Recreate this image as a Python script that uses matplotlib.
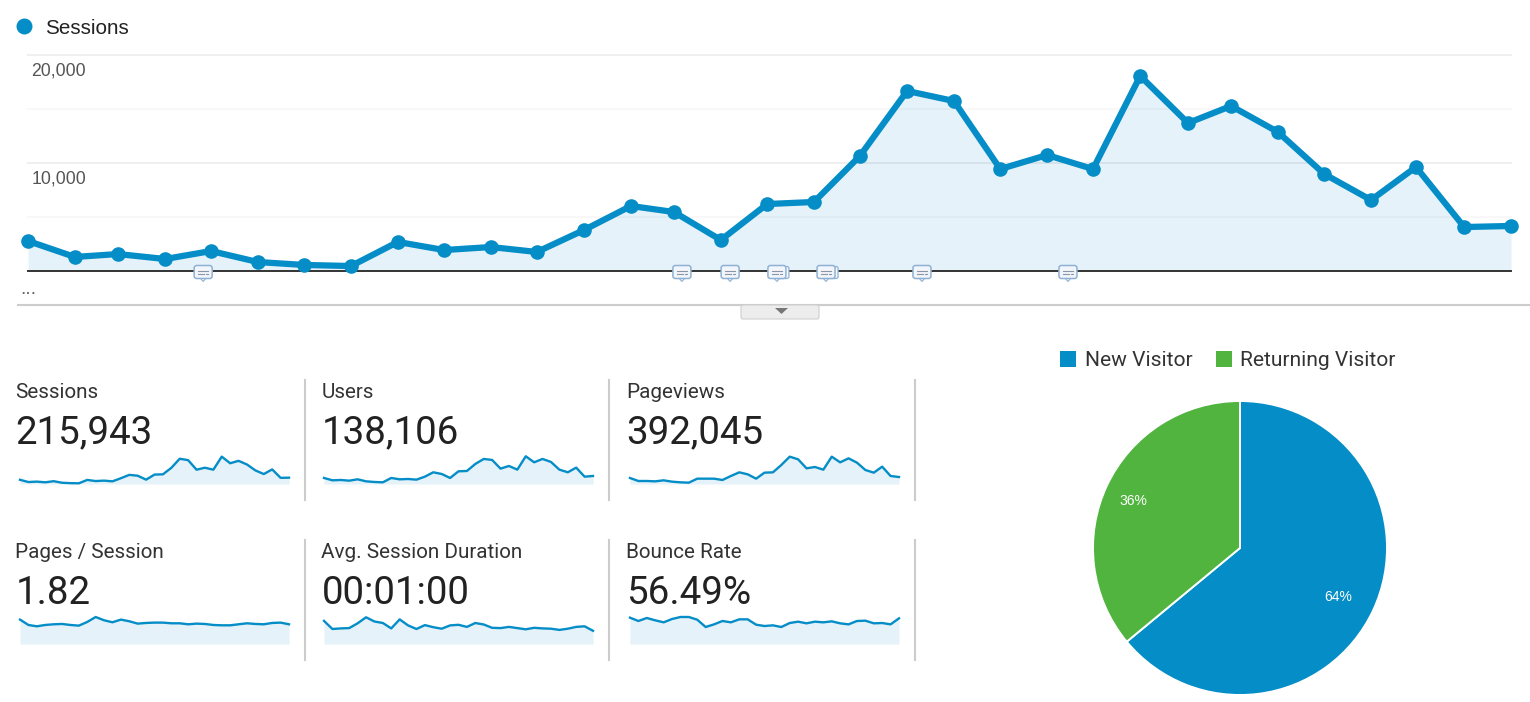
# Analytics overview: sessions trend, metric tiles with sparklines, visitor pie
import matplotlib
matplotlib.use('Agg')
import matplotlib.pyplot as plt
from matplotlib.patches import FancyBboxPatch, Rectangle, Polygon

plt.rcParams['font.family'] = ['Roboto', 'DejaVu Sans']

# period positions on the time axis (the picture has a few short periods)
period_x = [0, 1.01, 1.94, 2.96, 3.95, 4.96, 5.96, 6.97, 7.98, 8.98, 9.99,
            10.98, 12.0, 13.01, 13.94, 14.95, 15.95, 16.96, 17.95, 18.97,
            19.98, 20.98, 21.99, 22.98, 24.0, 25.03, 25.96, 26.97, 27.97,
            28.98, 29.95, 30.99, 32.0]
sessions = [2780, 1300, 1570, 1110, 1850, 830, 560, 460, 2690, 1940, 2220,
            1760, 3800, 6020, 5460, 2870, 6200, 6390, 10650, 16670, 15740,
            9440, 10740, 9440, 18060, 13700, 15280, 12870, 8980, 6570, 9630,
            4070, 4170]
users = [2190, 1340, 1460, 1210, 1700, 970, 730, 610, 2190, 1700, 1820, 1580,
         2670, 4250, 3640, 2190, 4610, 4730, 7280, 9100, 8740, 5580, 6550,
         5220, 10070, 7890, 9100, 8010, 5220, 4250, 5950, 2670, 2910]
pageviews = [6300, 3150, 3150, 2800, 3850, 2450, 1750, 1400, 5600, 5600, 5600,
             4200, 8400, 12250, 10150, 5600, 11900, 12250, 19950, 28700, 25900,
             16450, 17850, 15050, 28700, 22750, 26950, 22400, 14700, 11900,
             18200, 8400, 7350]
pages_per_session = [2.18, 1.70, 1.58, 1.70, 1.76, 1.79, 1.70, 1.64, 1.97, 2.41,
                     2.12, 1.94, 2.18, 2.03, 1.82, 1.88, 1.91, 1.91, 1.85, 1.85,
                     1.76, 1.82, 1.79, 1.70, 1.67, 1.67, 1.76, 1.85, 1.79, 1.76,
                     1.88, 1.91, 1.76]
avg_duration = [77, 50, 52, 53, 69, 89, 75, 70, 52, 82, 62, 50, 63, 56, 51, 62,
                64, 57, 70, 65, 54, 53, 57, 53, 49, 54, 52, 51, 47, 51, 57, 59, 44]
bounce_rate = [66.6, 58.2, 65.8, 59.9, 54.8, 63.2, 68.3, 68.3, 61.5, 43.0, 49.7,
               58.2, 54.8, 62.4, 62.4, 48.9, 45.5, 47.2, 43.0, 53.1, 56.5, 52.3,
               56.5, 54.8, 57.3, 52.3, 49.7, 58.2, 59.0, 52.3, 53.1, 49.7, 64.9]

# annotation flags: position on the time axis, and whether several are stacked
note_x = [3.78, 14.11, 15.15, 16.16, 17.22, 19.29, 22.44]
note_stacked = [False, False, False, True, True, False, False]

y_ticks = [0, 5000, 10000, 15000, 20000]
y_labels = ['10,000', '20,000']

tile_names = ['Sessions', 'Users', 'Pageviews',
              'Pages / Session', 'Avg. Session Duration', 'Bounce Rate']
tile_totals = ['215,943', '138,106', '392,045', '1.82', '00:01:00', '56.49%']
tile_series = [sessions, users, pageviews,
               pages_per_session, avg_duration, bounce_rate]
tile_ymax = [19800, 10900, 31500, 2.68, 100, 75.9]

pie_labels = ['New Visitor', 'Returning Visitor']
pie_values = [64, 36]

BLUE = '#058dc7'
FILL = '#e5f2f9'
GREEN = '#50b43f'
ARIAL = 'Liberation Sans'
W, H = 1530, 702

fig = plt.figure(figsize=(W / 100, H / 100), dpi=100, facecolor='white')


def px_axes(left, top, right, bottom, **kw):
    """Axes placed by its pixel box, measured from the top left"""
    return fig.add_axes([left / W, 1 - bottom / H, (right - left) / W, (bottom - top) / H], **kw)


# main trend chart
ax = px_axes(28, 55, 1511, 271)
ax.set_xlim(0, 32)
ax.set_ylim(0, 20000)
ax.fill_between(period_x, sessions, 0, color=FILL, lw=0, zorder=1)
for t in y_ticks[1:]:
    ax.axhline(t, color='black', alpha=0.07 if t % 10000 == 0 else 0.03, lw=1.3, zorder=2, clip_on=False)
ax.axhline(0, color='#333333', lw=1.4, zorder=2, clip_on=False)
ax.plot(period_x, sessions, color=BLUE, lw=4.5, marker='o', ms=10.5, mew=0,
        zorder=3, clip_on=False, solid_joinstyle='round')
ax.axis('off')

# sparkline tiles
tile_left = [20, 324, 630]
tile_text = [15.5, 321.5, 626.5]
for i, series in enumerate(tile_series):
    col, row = i % 3, i // 3
    base = 484 + row * 160
    sp = px_axes(tile_left[col], base - 30, tile_left[col] + 269, base)
    xs = list(range(len(series)))
    sp.set_xlim(0, len(series) - 1)
    sp.set_ylim(0, tile_ymax[i])
    sp.fill_between(xs, series, 0, color=FILL, lw=0)
    sp.plot(xs, series, color=BLUE, lw=1.7, clip_on=False, solid_joinstyle='round')
    sp.axis('off')

# pie
pie_ax = px_axes(1240 - 147, 548 - 147, 1240 + 147, 548 + 147)
wedges, texts, autotexts = pie_ax.pie(
    pie_values, colors=[BLUE, GREEN], startangle=90, counterclock=False, radius=1.0,
    autopct='%d%%', pctdistance=0.74,
    wedgeprops={'edgecolor': 'white', 'linewidth': 1.4},
    textprops={'color': 'white', 'fontsize': 10, 'family': ARIAL})
pie_ax.set_xlim(-1, 1)
pie_ax.set_ylim(-1, 1)
# the second label sits further out, and both read a little lower than centred
x64, y64 = autotexts[0].get_position()
autotexts[0].set_position((x64, y64 - 0.02))
x36, y36 = autotexts[1].get_position()
autotexts[1].set_position((x36 * 0.80 / 0.74, y36 * 0.80 / 0.74 - 0.02))

# everything else goes on a full-size overlay in pixel coordinates
ov = fig.add_axes([0, 0, 1, 1], zorder=10)
ov.set_xlim(0, W)
ov.set_ylim(H, 0)
ov.axis('off')
ov.patch.set_alpha(0)

# top legend
ov.plot([24], [26], 'o', color=BLUE, ms=11.5, mew=0)
ov.text(45, 28.5, 'Sessions', fontsize=14.9, color='#222222', va='center', family=ARIAL)

for t, lab, py in zip(y_ticks[2::2], y_labels, [178.5, 70.5]):
    ov.text(86, py, lab, fontsize=12.7, color='#555555', ha='right', va='center', family=ARIAL)
ov.text(28, 289, '...', fontsize=14, color='#666666', ha='center', va='center', family=ARIAL)

# annotation flags under the chart
for nx, stacked in zip(note_x, note_stacked):
    cx = 28 + nx * (1511 - 28) / 32
    if stacked:
        ov.add_patch(FancyBboxPatch((cx - 5, 266.5), 17, 12, boxstyle='round,pad=0,rounding_size=2',
                                    fc='#f7fafd', ec='#8fb1d6', lw=0.9, zorder=4))
    ov.add_patch(Polygon([[cx - 3, 278], [cx + 3, 278], [cx, 281.5]], fc='#ffffff', ec='#8fb1d6', lw=0.8, zorder=5))
    ov.add_patch(FancyBboxPatch((cx - 9, 265.5), 18, 13, boxstyle='round,pad=0,rounding_size=2.5',
                                fc='#f2f6fb', ec='#8fb1d6', lw=1.1, zorder=6))
    ov.plot([cx - 5, cx + 5], [270.5, 270.5], color='#8a96a3', lw=0.8, zorder=7)
    ov.plot([cx - 5, cx + 1], [273.5, 273.5], color='#8a96a3', lw=0.8, zorder=7)
    ov.plot([cx + 3, cx + 5], [273.5, 273.5], color='#8a96a3', lw=0.8, zorder=7)

# divider with the collapse button
ov.plot([18, 1530], [305, 305], color='#cccccc', lw=1.5, zorder=2)
ov.add_patch(FancyBboxPatch((741, 305), 78, 14, boxstyle='round,pad=0,rounding_size=2',
                            fc='#ededed', ec='#cfcfcf', lw=0.8, zorder=3))
ov.add_patch(Polygon([[775, 308], [788, 308], [781.5, 314]], fc='#777777', ec='none', zorder=4))

# tile text and separators
for i, name in enumerate(tile_names):
    col, row = i % 3, i // 3
    dy = row * 160
    ov.text(tile_text[col], 392 + dy, name, fontsize=14.9, color='#333333', va='center')
    ov.text(tile_text[col], 433 + dy, tile_totals[i], fontsize=27.7, color='#222222', va='center')
for sx in [305, 609, 915]:
    for top in [380, 540]:
        ov.plot([sx, sx], [top, top + 120], color='#cccccc', lw=1.5)

# pie legend
for lx, tx, lab, c in zip([1060, 1216], [1085, 1240], pie_labels, [BLUE, GREEN]):
    ov.add_patch(Rectangle((lx, 351), 16, 16, fc=c, ec='none'))
    ov.text(tx, 360, lab, fontsize=15.1, color='#333333', va='center')

fig.savefig('out.png', dpi=100, facecolor='white')
